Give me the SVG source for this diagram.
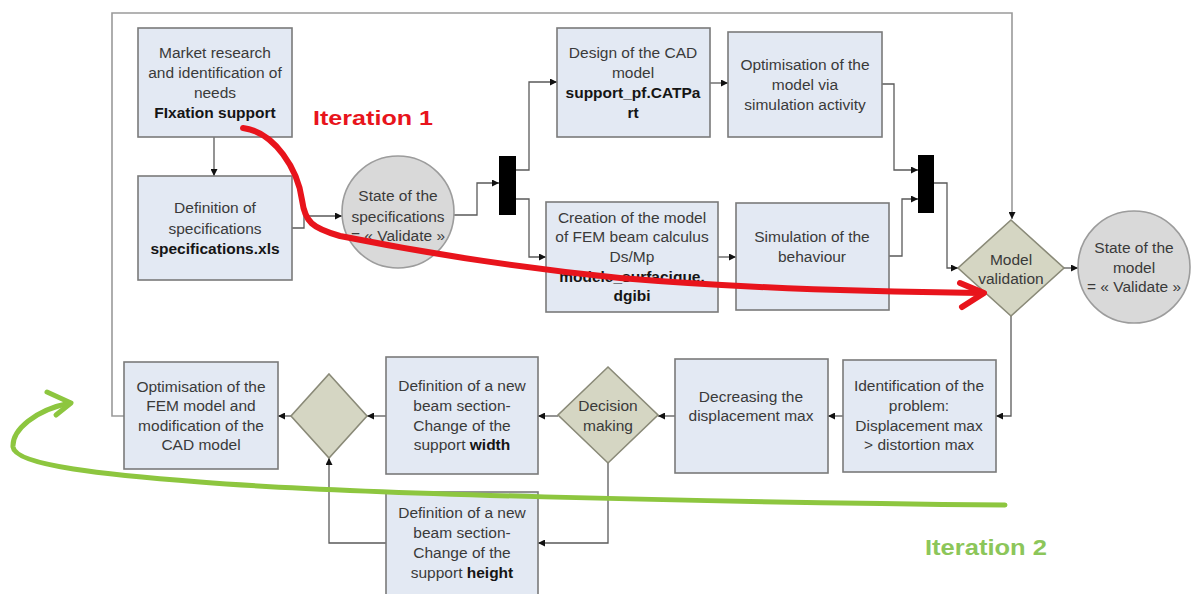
<svg xmlns="http://www.w3.org/2000/svg" width="1192" height="594" viewBox="0 0 1192 594">
<defs>
<marker id="ah" viewBox="0 0 10 10" refX="10" refY="5" markerWidth="7" markerHeight="7" markerUnits="userSpaceOnUse" orient="auto">
<path d="M0,0 L10,5 L0,10 z" fill="#111"/>
</marker>
</defs>
<style>
.box{fill:#e3e9f3;stroke:#7a7a7a;stroke-width:1.6}
.circ{fill:#d9d9d9;stroke:#9c9c9c;stroke-width:1.6}
.dia{fill:#d5d6c3;stroke:#8a8a78;stroke-width:1.6}
.fork{fill:#000}
.t{font-family:"Liberation Sans",Arial,sans-serif;font-size:15.5px;fill:#3a3a3a;text-anchor:middle}
.b{font-weight:bold;fill:#151515}
.con{fill:none;stroke:#5a5a5a;stroke-width:1.3}
.frame{fill:none;stroke:#9a9a9a;stroke-width:1.6}
</style>
<rect width="1192" height="594" fill="#fff"/>
<g id="connectors">
<path class="frame" d="M124,416 H112 V13 H1012 V219" marker-end="url(#ah)"/>
<path class="con" d="M214,137 V176" marker-end="url(#ah)"/>
<path class="con" d="M292,228 H304 V216 H342" marker-end="url(#ah)"/>
<path class="con" d="M454,215 H477 V183 H499" marker-end="url(#ah)"/>
<path class="con" d="M516,170 H529 V82 H557" marker-end="url(#ah)"/>
<path class="con" d="M516,199 H529 V257 H546" marker-end="url(#ah)"/>
<path class="con" d="M710,83 H728" marker-end="url(#ah)"/>
<path class="con" d="M718,257 H736" marker-end="url(#ah)"/>
<path class="con" d="M882,84 H894 V170 H918" marker-end="url(#ah)"/>
<path class="con" d="M889,256 H902 V199 H918" marker-end="url(#ah)"/>
<path class="con" d="M934,183 H947 V268 H958" marker-end="url(#ah)"/>
<path class="con" d="M1064,268 H1078" marker-end="url(#ah)"/>
<path class="con" d="M1011,316 V416 H996" marker-end="url(#ah)"/>
<path class="con" d="M843,416 H828" marker-end="url(#ah)"/>
<path class="con" d="M675,416 H658" marker-end="url(#ah)"/>
<path class="con" d="M558,416 H538" marker-end="url(#ah)"/>
<path class="con" d="M608,463 V543 H538" marker-end="url(#ah)"/>
<path class="con" d="M386,416 H367" marker-end="url(#ah)"/>
<path class="con" d="M386,543 H329 V458" marker-end="url(#ah)"/>
<path class="con" d="M291,416 H278" marker-end="url(#ah)"/>
</g>
<g id="market">
<rect class="box" x="138" y="28" width="154" height="109"/>
<text class="t" x="215" y="58">Market research</text>
<text class="t" x="215" y="78">and identification of</text>
<text class="t" x="215" y="98">needs</text>
<text class="t b" x="215" y="118">FIxation support</text>
</g>
<g id="specs">
<rect class="box" x="138" y="176" width="154" height="104"/>
<text class="t" x="215" y="213">Definition of</text>
<text class="t" x="215" y="234">specifications</text>
<text class="t b" x="215" y="254">specifications.xls</text>
</g>
<g id="state-specs">
<circle class="circ" cx="398" cy="212" r="56"/>
<text class="t" x="398" y="201">State of the</text>
<text class="t" x="398" y="222">specifications</text>
<text class="t" x="398" y="241">= « Validate »</text>
</g>
<g id="fork1"><rect class="fork" x="499" y="156" width="17" height="59"/></g>
<g id="design">
<rect class="box" x="557" y="28" width="153" height="109"/>
<text class="t" x="633" y="58">Design of the CAD</text>
<text class="t" x="633" y="78">model</text>
<text class="t b" x="633" y="98">support_pf.CATPa</text>
<text class="t b" x="633" y="118">rt</text>
</g>
<g id="optim">
<rect class="box" x="728" y="32" width="154" height="105"/>
<text class="t" x="805" y="70">Optimisation of the</text>
<text class="t" x="805" y="90">model via</text>
<text class="t" x="805" y="110">simulation activity</text>
</g>
<g id="creation">
<rect class="box" x="546" y="202" width="172" height="110"/>
<text class="t" x="632" y="223">Creation of the model</text>
<text class="t" x="632" y="242">of FEM beam calculus</text>
<text class="t" x="632" y="262">Ds/Mp</text>
<text class="t b" x="632" y="282">modele_surfacique.</text>
<text class="t b" x="632" y="301">dgibi</text>
</g>
<g id="simulation">
<rect class="box" x="736" y="203" width="153" height="107"/>
<text class="t" x="812" y="242">Simulation of the</text>
<text class="t" x="812" y="262">behaviour</text>
</g>
<g id="fork2"><rect class="fork" x="918" y="155" width="16" height="58"/></g>
<g id="model-validation">
<polygon class="dia" points="1011,220 1064,268 1011,316 958,268"/>
<text class="t" x="1011" y="265">Model</text>
<text class="t" x="1011" y="284">validation</text>
</g>
<g id="state-model">
<circle class="circ" cx="1134" cy="267" r="56"/>
<text class="t" x="1134" y="253">State of the</text>
<text class="t" x="1134" y="273">model</text>
<text class="t" x="1134" y="292">= « Validate »</text>
</g>
<g id="identification">
<rect class="box" x="843" y="360" width="153" height="112"/>
<text class="t" x="919" y="391">Identification of the</text>
<text class="t" x="919" y="411">problem:</text>
<text class="t" x="919" y="431">Displacement max</text>
<text class="t" x="919" y="450">&gt; distortion max</text>
</g>
<g id="decreasing">
<rect class="box" x="675" y="359" width="153" height="114"/>
<text class="t" x="751" y="402">Decreasing the</text>
<text class="t" x="751" y="421">displacement max</text>
</g>
<g id="decision">
<polygon class="dia" points="608,367 658,415 608,463 558,415"/>
<text class="t" x="608" y="411">Decision</text>
<text class="t" x="608" y="431">making</text>
</g>
<g id="width-section">
<rect class="box" x="386" y="357" width="152" height="117"/>
<text class="t" x="462" y="391">Definition of a new</text>
<text class="t" x="462" y="411">beam section-</text>
<text class="t" x="462" y="431">Change of the</text>
<text class="t" x="462" y="450">support <tspan class="b">width</tspan></text>
</g>
<g id="height-section">
<rect class="box" x="386" y="492" width="152" height="110"/>
<text class="t" x="462" y="518">Definition of a new</text>
<text class="t" x="462" y="538">beam section-</text>
<text class="t" x="462" y="558">Change of the</text>
<text class="t" x="462" y="578">support <tspan class="b">height</tspan></text>
</g>
<g id="merge">
<polygon class="dia" points="329,374 367,416 329,458 291,416"/>
</g>
<g id="optim-fem">
<rect class="box" x="124" y="362" width="154" height="107"/>
<text class="t" x="201" y="392">Optimisation of the</text>
<text class="t" x="201" y="411">FEM model and</text>
<text class="t" x="201" y="431">modification of the</text>
<text class="t" x="201" y="450">CAD model</text>
</g>
<g id="iteration1">
<path d="M243,128 C275,132 298,170 302,200 C305,222 312,228 340,236 C420,252 520,268 620,278 C740,288 880,292 980,293" fill="none" stroke="#e8141c" stroke-width="6" stroke-linecap="round"/>
<path d="M960,283 L984,293 L962,307" fill="none" stroke="#e8141c" stroke-width="6" stroke-linecap="round" stroke-linejoin="round"/>
<text x="313" y="125" textLength="120" lengthAdjust="spacingAndGlyphs" style="font-family:'Liberation Sans',Arial,sans-serif;font-size:21px;font-weight:bold;fill:#e8141c">Iteration 1</text>
</g>
<g id="iteration2">
<path d="M1005,505 C700,502 350,494 200,482 C110,475 15,466 13,447 C12,430 35,410 70,403" fill="none" stroke="#8dc63f" stroke-width="5" stroke-linecap="round"/>
<path d="M47,392 L71,403 L56,415" fill="none" stroke="#8dc63f" stroke-width="5" stroke-linecap="round" stroke-linejoin="round"/>
<text x="925" y="555" textLength="122" lengthAdjust="spacingAndGlyphs" style="font-family:'Liberation Sans',Arial,sans-serif;font-size:22px;font-weight:bold;fill:#8cc65a">Iteration 2</text>
</g>
</svg>
